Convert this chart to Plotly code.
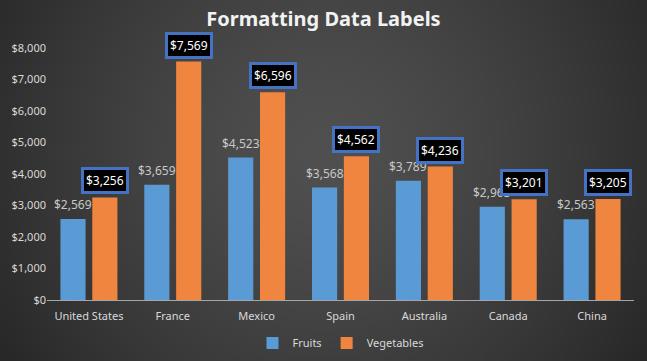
import base64, struct, zlib
import numpy as np
import plotly.graph_objects as go

categories = ["United States", "France", "Mexico", "Spain", "Australia", "Canada", "China"]
fruits = [2569, 3659, 4523, 3568, 3789, 2963, 2563]
vegetables = [3256, 7569, 6596, 4562, 4236, 3201, 3205]
y_ticks = [0, 1000, 2000, 3000, 4000, 5000, 6000, 7000, 8000]

W, H = 647, 361
ML, MR, MT, MB = 47, 13, 48, 61
plot_w = W - ML - MR
plot_h = H - MT - MB
cat_px = plot_w / len(categories)
bar_w = 0.30
f_off, v_off = -0.34, 0.04
f_shift = (f_off + bar_w / 2) * cat_px
v_shift = (v_off + bar_w / 2) * cat_px


def radial_png(w, h, inner, outer, cx=0.5, cy=0.42):
    yy, xx = np.mgrid[0:h, 0:w]
    dx = (xx / (w - 1) - cx) * (W / H)
    dy = yy / (h - 1) - cy
    r = np.sqrt(dx ** 2 + dy ** 2)
    t = np.clip(r / r.max(), 0, 1) ** 1.4
    img = np.zeros((h, w, 3), dtype=np.uint8)
    for k in range(3):
        img[:, :, k] = (inner[k] + (outer[k] - inner[k]) * t).astype(np.uint8)
    raw = b"".join(b"\x00" + img[i].tobytes() for i in range(h))
    def chunk(tag, data):
        c = tag + data
        return struct.pack(">I", len(data)) + c + struct.pack(">I", zlib.crc32(c) & 0xffffffff)
    png = b"\x89PNG\r\n\x1a\n" + chunk(b"IHDR", struct.pack(">IIBBBBB", w, h, 8, 2, 0, 0, 0)) \
        + chunk(b"IDAT", zlib.compress(raw, 9)) + chunk(b"IEND", b"")
    return "data:image/png;base64," + base64.b64encode(png).decode()


bg = radial_png(162, 90, (80, 80, 80), (40, 40, 40))

fig = go.Figure()
fig.add_trace(go.Bar(
    name="Fruits", x=categories, y=fruits, width=bar_w, offset=f_off,
    marker=dict(color="#5b9bd5", line=dict(width=0)),
))
fig.add_trace(go.Bar(
    name="Vegetables", x=categories, y=vegetables, width=bar_w, offset=v_off,
    marker=dict(color="#f08540", line=dict(width=0)),
))

annotations = []
for c, v in zip(categories, fruits):
    annotations.append(dict(
        x=c, y=v, xref="x", yref="y", text=f"${v:,}", showarrow=False,
        xshift=f_shift, yshift=4, yanchor="bottom",
        font=dict(family="Noto Sans", size=12, color="#c8c8c8"),
    ))
for c, v in zip(categories, vegetables):
    annotations.append(dict(
        x=c, y=v, xref="x", yref="y", text=f"${v:,}", showarrow=False,
        xshift=v_shift, yshift=3, yanchor="bottom",
        font=dict(family="Noto Sans", size=12, color="#ffffff"),
        bgcolor="#000000", bordercolor="#4472c4", borderwidth=3, borderpad=2,
    ))

fig.update_layout(
    width=W, height=H,
    margin=dict(l=ML, r=MR, t=MT, b=MB, autoexpand=False),
    paper_bgcolor="#3a3a3a", plot_bgcolor="rgba(0,0,0,0)",
    images=[dict(source=bg, xref="paper", yref="paper",
                 x=-ML / plot_w, y=1 + MT / plot_h, sizex=W / plot_w, sizey=H / plot_h,
                 xanchor="left", yanchor="top", sizing="stretch", layer="below")],
    title=dict(text="<b>Formatting Data Labels</b>", x=0.5, xanchor="center",
               y=1 - 19 / H, yanchor="middle",
               font=dict(family="Noto Sans", size=20, color="#f2f2f2")),
    showlegend=True,
    legend=dict(orientation="h", x=0.5, xanchor="center", yref="container",
                y=1 - 343 / H, yanchor="middle",
                font=dict(family="Noto Sans", size=11, color="#d9d9d9"),
                itemwidth=30, bgcolor="rgba(0,0,0,0)"),
    annotations=annotations,
)
fig.update_xaxes(
    type="category", showgrid=False, showline=True, linecolor="#a6a6a6", linewidth=1,
    ticks="", ticklabelstandoff=6, tickfont=dict(family="Noto Sans", size=11, color="#d9d9d9"),
    zeroline=False,
)
fig.update_yaxes(
    range=[0, 8000], tickvals=y_ticks, ticktext=[f"${t:,}" for t in y_ticks],
    showgrid=False, zeroline=False, showline=False, ticks="", ticklen=4,
    tickfont=dict(family="Noto Sans", size=11, color="#d9d9d9"),
)

fig.write_html("out.html")
